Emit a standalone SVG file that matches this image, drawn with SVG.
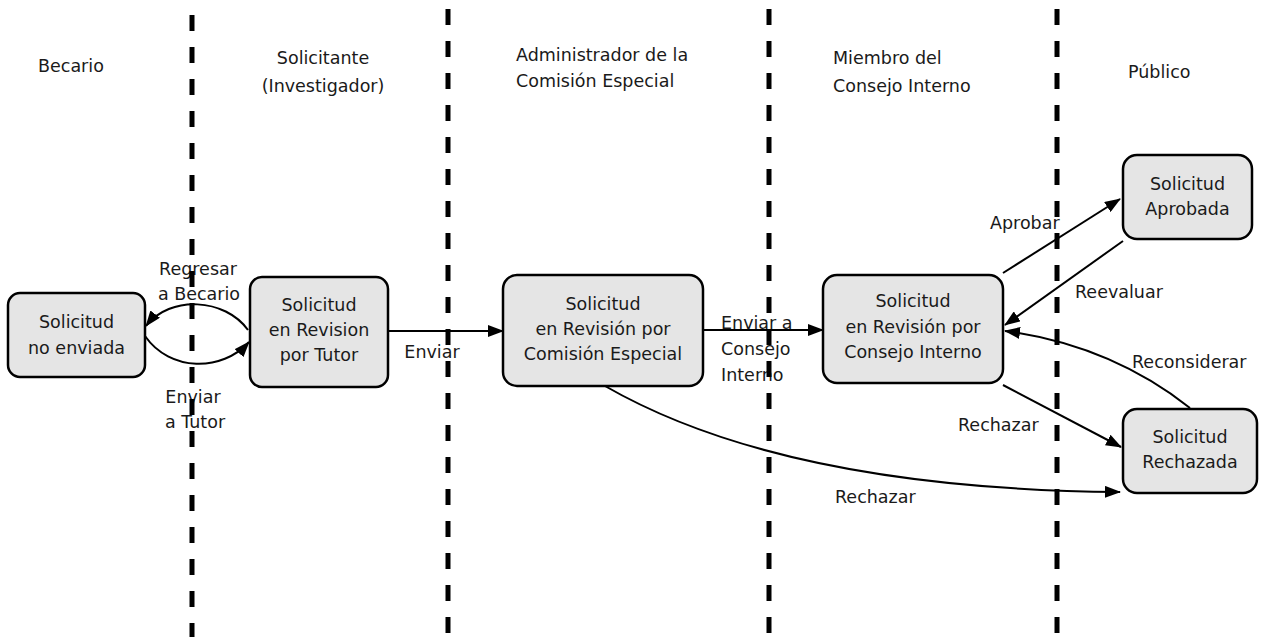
<svg xmlns="http://www.w3.org/2000/svg" width="1264" height="637" viewBox="0 0 1264 637">
<style>
text{font-family:"DejaVu Sans","Liberation Sans",sans-serif;font-size:17.5px;fill:#1a1a1a}
.c{text-anchor:middle}
.box{fill:#e5e5e5;stroke:#000;stroke-width:2.5}
.e{fill:none;stroke:#000;stroke-width:2}
.lane{stroke:#000;stroke-width:5;stroke-dasharray:16 16}
</style>
<defs>
<marker id="ah" viewBox="0 0 16 12" refX="15" refY="6" markerWidth="16" markerHeight="12" markerUnits="userSpaceOnUse" orient="auto">
<path d="M0,0 L16,6 L0,12 z" fill="#000"/>
</marker>
</defs>
<rect width="1264" height="637" fill="#fff"/>
<g id="headers">
<text x="38" y="72">Becario</text>
<text class="c" x="323" y="64">Solicitante</text>
<text class="c" x="323" y="92">(Investigador)</text>
<text x="516" y="61">Administrador de la</text>
<text x="516" y="87">Comisión Especial</text>
<text x="833" y="64">Miembro del</text>
<text x="833" y="92">Consejo Interno</text>
<text x="1128" y="78">Público</text>
</g>
<g id="n1"><rect class="box" x="8" y="293" width="137" height="84" rx="12"/>
<text class="c" x="76.5" y="328">Solicitud</text><text class="c" x="76.5" y="354">no enviada</text></g>
<g id="n2"><rect class="box" x="250" y="277" width="138" height="110" rx="12"/>
<text class="c" x="319" y="311">Solicitud</text><text class="c" x="319" y="336">en Revision</text><text class="c" x="319" y="361">por Tutor</text></g>
<g id="n3"><rect class="box" x="503" y="275" width="200" height="111" rx="14"/>
<text class="c" x="603" y="310">Solicitud</text><text class="c" x="603" y="335">en Revisión por</text><text class="c" x="603" y="360">Comisión Especial</text></g>
<g id="n4"><rect class="box" x="823" y="275" width="180" height="108" rx="14"/>
<text class="c" x="913" y="307">Solicitud</text><text class="c" x="913" y="333">en Revisión por</text><text class="c" x="913" y="358">Consejo Interno</text></g>
<g id="n5"><rect class="box" x="1123" y="155" width="129" height="84" rx="14"/>
<text class="c" x="1187.5" y="190">Solicitud</text><text class="c" x="1187.5" y="215">Aprobada</text></g>
<g id="n6"><rect class="box" x="1123" y="409" width="134" height="84" rx="14"/>
<text class="c" x="1190" y="443">Solicitud</text><text class="c" x="1190" y="468">Rechazada</text></g>
<g id="connectors">
<path class="e" d="M248,330 C225,298 170,295 146,326" marker-end="url(#ah)"/>
<path class="e" d="M145,336 C170,372 222,372 249,342" marker-end="url(#ah)"/>
<path class="e" d="M388,331 L503,331" marker-end="url(#ah)"/>
<path class="e" d="M703,330 L823,330" marker-end="url(#ah)"/>
<path class="e" d="M1003,273 L1120,199" marker-end="url(#ah)"/>
<path class="e" d="M1123,241 L1005,325" marker-end="url(#ah)"/>
<path class="e" d="M1190,408 Q1110,345 1005,331" marker-end="url(#ah)"/>
<path class="e" d="M1003,385 L1121,447" marker-end="url(#ah)"/>
<path class="e" d="M605,386 C725,455 900,490 1120,492" marker-end="url(#ah)"/>
<text class="c" x="198" y="275">Regresar</text>
<text class="c" x="199" y="300">a Becario</text>
<text class="c" x="193" y="403">Enviar</text>
<text class="c" x="195" y="428">a Tutor</text>
<text class="c" x="432" y="358">Enviar</text>
<text x="721" y="329">Enviar a</text>
<text x="721" y="355">Consejo</text>
<text x="721" y="381">Interno</text>
<text x="990" y="229">Aprobar</text>
<text x="1075" y="298">Reevaluar</text>
<text x="1132" y="368">Reconsiderar</text>
<text x="958" y="431">Rechazar</text>
<text x="835" y="503">Rechazar</text>
</g>
<g id="lanes">
<line class="lane" x1="192" y1="15" x2="192" y2="637"/>
<line class="lane" x1="448" y1="9" x2="448" y2="637"/>
<line class="lane" x1="769" y1="9" x2="769" y2="637"/>
<line class="lane" x1="1057" y1="9" x2="1057" y2="637"/>
</g>
</svg>
